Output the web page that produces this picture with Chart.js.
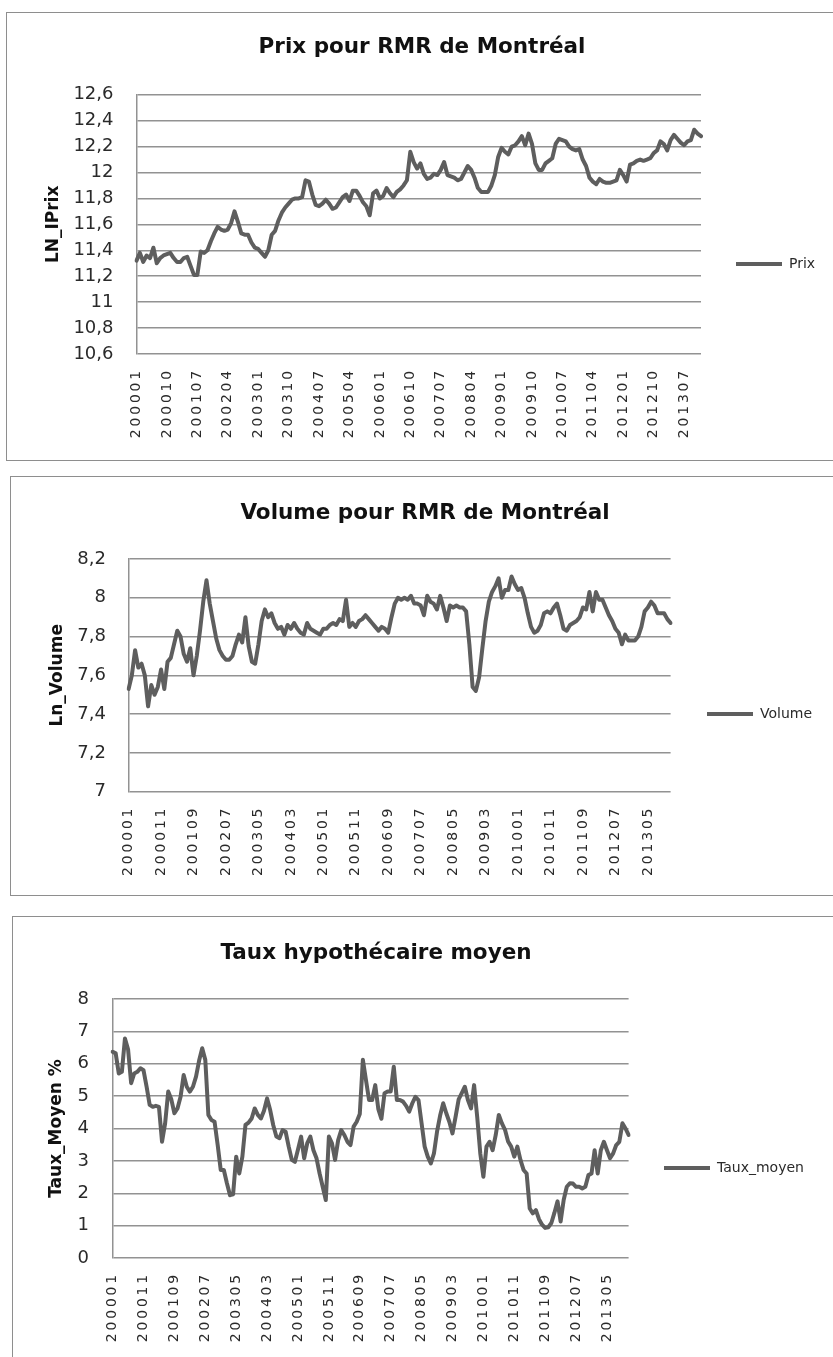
<!DOCTYPE html>
<html>
<head>
<meta charset="utf-8">
<script src="https://cdn.jsdelivr.net/npm/chart.js@4.4.1/dist/chart.umd.min.js"></script>
<style>
  html, body { margin: 0; padding: 0; background: #ffffff; width: 833px; height: 1357px; overflow: hidden; position: relative; }
  .frame { position: absolute; border: 1.5px solid #8e8e8e; box-sizing: border-box; }
  canvas { position: absolute; left: 0; }
</style>
</head>
<body>
<div class="frame" style="left:6px; top:12px; width:900px; height:449px;"></div>
<div class="frame" style="left:10px; top:476px; width:900px; height:420px;"></div>
<div class="frame" style="left:12px; top:916px; width:900px; height:460px;"></div>

<canvas id="prixChart" width="833" height="448" style="top:12px;"></canvas>
<canvas id="volumeChart" width="833" height="419" style="top:476px;"></canvas>
<canvas id="tauxChart" width="833" height="441" style="top:916px;"></canvas>

<script>
// Monthly categories, January 2000 to December 2013 (YYYYMM)
const FIRST_YEAR = 2000;
const LAST_YEAR = 2013;
const months = [];
for (let y = FIRST_YEAR; y <= LAST_YEAR; y++) {
  for (let m = 1; m <= 12; m++) months.push(String(y) + String(m).padStart(2, '0'));
}

// ln(price index), one row per year
const prix = [
  11.32, 11.38, 11.31, 11.36, 11.34, 11.42, 11.30, 11.34, 11.36, 11.37, 11.38, 11.34,
  11.31, 11.31, 11.34, 11.35, 11.28, 11.21, 11.21, 11.39, 11.38, 11.40, 11.47, 11.53,
  11.58, 11.56, 11.55, 11.56, 11.61, 11.70, 11.62, 11.53, 11.52, 11.52, 11.46, 11.42,
  11.41, 11.38, 11.35, 11.40, 11.52, 11.55, 11.63, 11.69, 11.73, 11.76, 11.79, 11.80,
  11.80, 11.81, 11.94, 11.93, 11.83, 11.75, 11.74, 11.76, 11.79, 11.76, 11.72, 11.73,
  11.77, 11.81, 11.83, 11.78, 11.86, 11.86, 11.82, 11.77, 11.74, 11.67, 11.84, 11.86,
  11.80, 11.82, 11.88, 11.84, 11.81, 11.85, 11.87, 11.90, 11.94, 12.16, 12.08, 12.03,
  12.07, 11.99, 11.95, 11.96, 11.99, 11.98, 12.02, 12.08, 11.98, 11.97, 11.96, 11.94,
  11.95, 12.00, 12.05, 12.02, 11.96, 11.88, 11.85, 11.85, 11.85, 11.90, 11.98, 12.12,
  12.19, 12.16, 12.14, 12.20, 12.21, 12.24, 12.28, 12.21, 12.30, 12.22, 12.07, 12.02,
  12.02, 12.07, 12.09, 12.11, 12.22, 12.26, 12.25, 12.24, 12.20, 12.18, 12.17, 12.18,
  12.10, 12.05, 11.96, 11.93, 11.91, 11.95, 11.93, 11.92, 11.92, 11.93, 11.94, 12.02,
  11.98, 11.93, 12.06, 12.07, 12.09, 12.10, 12.09, 12.10, 12.11, 12.15, 12.17, 12.24,
  12.22, 12.17, 12.25, 12.29, 12.26, 12.23, 12.21, 12.24, 12.25, 12.33, 12.30, 12.28
];

// ln(sales volume), one row per year
const volume = [
  7.53, 7.60, 7.73, 7.64, 7.66, 7.60, 7.44, 7.55, 7.50, 7.54, 7.63, 7.53,
  7.67, 7.69, 7.76, 7.83, 7.80, 7.71, 7.67, 7.74, 7.60, 7.70, 7.83, 7.98,
  8.09, 7.97, 7.88, 7.79, 7.73, 7.70, 7.68, 7.68, 7.70, 7.76, 7.81, 7.77,
  7.90, 7.75, 7.67, 7.66, 7.76, 7.88, 7.94, 7.90, 7.92, 7.87, 7.84, 7.85,
  7.81, 7.86, 7.84, 7.87, 7.84, 7.82, 7.81, 7.87, 7.84, 7.83, 7.82, 7.81,
  7.84, 7.84, 7.86, 7.87, 7.86, 7.89, 7.88, 7.99, 7.85, 7.87, 7.85, 7.88,
  7.89, 7.91, 7.89, 7.87, 7.85, 7.83, 7.85, 7.84, 7.82, 7.90, 7.97, 8.00,
  7.99, 8.00, 7.99, 8.01, 7.97, 7.97, 7.96, 7.91, 8.01, 7.98, 7.97, 7.94,
  8.01, 7.95, 7.88, 7.96, 7.95, 7.96, 7.95, 7.95, 7.93, 7.76, 7.54, 7.52,
  7.59, 7.74, 7.88, 7.98, 8.03, 8.06, 8.10, 8.00, 8.04, 8.04, 8.11, 8.07,
  8.04, 8.05, 8.00, 7.92, 7.85, 7.82, 7.83, 7.86, 7.92, 7.93, 7.92, 7.95,
  7.97, 7.91, 7.84, 7.83, 7.86, 7.87, 7.88, 7.90, 7.95, 7.94, 8.03, 7.93,
  8.03, 7.99, 7.99, 7.95, 7.91, 7.88, 7.84, 7.82, 7.76, 7.81, 7.78, 7.78,
  7.78, 7.80, 7.85, 7.93, 7.95, 7.98, 7.96, 7.92, 7.92, 7.92, 7.89, 7.87
];

// Average mortgage rate (%), one row per year
const taux = [
  6.37, 6.32, 5.70, 5.75, 6.78, 6.45, 5.40, 5.70, 5.75, 5.86, 5.80, 5.29,
  4.73, 4.67, 4.70, 4.67, 3.59, 4.16, 5.14, 4.90, 4.47, 4.62, 4.98, 5.65,
  5.29, 5.14, 5.29, 5.60, 6.10, 6.48, 6.12, 4.42, 4.26, 4.21, 3.50, 2.72,
  2.72, 2.31, 1.94, 1.97, 3.13, 2.61, 3.13, 4.11, 4.18, 4.31, 4.62, 4.42,
  4.31, 4.55, 4.93, 4.57, 4.10, 3.75, 3.70, 3.95, 3.90, 3.44, 3.03, 2.97,
  3.35, 3.75, 3.08, 3.55, 3.75, 3.33, 3.08, 2.61, 2.20, 1.79, 3.75, 3.54,
  3.03, 3.64, 3.95, 3.80, 3.59, 3.49, 4.06, 4.21, 4.45, 6.12, 5.50, 4.88,
  4.88, 5.34, 4.60, 4.30, 5.09, 5.14, 5.14, 5.91, 4.88, 4.88, 4.83, 4.70,
  4.52, 4.78, 4.98, 4.88, 4.16, 3.44, 3.13, 2.92, 3.23, 3.90, 4.40, 4.78,
  4.47, 4.20, 3.85, 4.36, 4.90, 5.09, 5.29, 4.88, 4.62, 5.34, 4.36, 3.23,
  2.51, 3.44, 3.59, 3.33, 3.80, 4.42, 4.16, 3.96, 3.60, 3.44, 3.13, 3.44,
  3.03, 2.72, 2.61, 1.53, 1.38, 1.48, 1.20, 1.03, 0.93, 0.95, 1.08, 1.40,
  1.75, 1.13, 1.80, 2.20, 2.31, 2.30, 2.20, 2.20, 2.15, 2.20, 2.56, 2.61,
  3.33, 2.61, 3.33, 3.59, 3.33, 3.08, 3.23, 3.49, 3.59, 4.16, 4.00, 3.80
];

// Value-axis ranges: [min, max, step]
const prixAxis = [10.6, 12.6, 0.2];
const volumeAxis = [7.0, 8.2, 0.2];
const tauxAxis = [0, 8, 1];

// Every n-th month gets a category label
const prixLabelEvery = 9;
const volumeLabelEvery = 10;
const tauxLabelEvery = 10;

const LINE_COLOR = '#5e5e5e';
const GRID_COLOR = '#929292';
const TEXT_COLOR = '#2a2a2a';
const FONT = "'DejaVu Sans', 'Liberation Sans', sans-serif";

// Fixes legend width/vertical placement, nudges the title and spaces category labels
const layoutTweaks = {
  id: 'layoutTweaks',
  beforeLayout(chart, args, o) {
    const lg = chart.legend;
    if (lg && !lg.__fixedWidth) {
      const baseFit = lg.fit;
      lg.fit = function () { baseFit.call(this); this.width = o.legendWidth; };
      lg.__fixedWidth = true;
    }
  },
  afterLayout(chart, args, o) {
    const lg = chart.legend;
    if (lg) {
      const dy = o.legendY - (lg.top + lg.bottom) / 2;
      lg.top += dy;
      lg.bottom += dy;
    }
    const tb = chart.titleBlock;
    if (tb) {
      tb.left += o.titleDx;
      tb.right += o.titleDx;
    }
    const xs = chart.scales.x;
    if (xs && !xs.__spaced) {
      const baseDraw = xs.drawLabels;
      xs.drawLabels = function (area) {
        const c = this.ctx;
        c.save();
        c.letterSpacing = o.tickSpacing;
        baseDraw.call(this, area);
        c.restore();
      };
      xs.__spaced = true;
    }
  }
};

function decimalComma(v) {
  return String(parseFloat(Number(v).toFixed(1))).replace('.', ',');
}

function lineLegendItems(chart) {
  const items = Chart.defaults.plugins.legend.labels.generateLabels(chart);
  items.forEach(it => { it.lineWidth = 0; it.fillStyle = LINE_COLOR; it.strokeStyle = LINE_COLOR; });
  return items;
}

function makeChart(id, cfg) {
  const [ymin, ymax, ystep] = cfg.axis;
  return new Chart(document.getElementById(id), {
    type: 'line',
    data: {
      labels: months,
      datasets: [{
        label: cfg.series,
        data: cfg.values,
        borderColor: LINE_COLOR,
        backgroundColor: LINE_COLOR,
        borderWidth: 4,
        pointRadius: 0,
        pointHoverRadius: 0,
        tension: 0,
        borderJoinStyle: 'round',
        borderCapStyle: 'round',
        fill: false
      }]
    },
    options: {
      responsive: false,
      animation: false,
      devicePixelRatio: 1,
      events: [],
      layout: { padding: 0 },
      plugins: {
        tooltip: { enabled: false },
        title: {
          display: true,
          text: cfg.title,
          color: '#111111',
          font: { family: FONT, size: 21.5, weight: 'bold', lineHeight: 1.2 },
          padding: { top: cfg.titlePadTop, bottom: cfg.titlePadBottom }
        },
        legend: {
          display: true,
          position: 'right',
          align: 'center',
          labels: {
            color: TEXT_COLOR,
            font: { family: FONT, size: 14 },
            boxWidth: 46,
            boxHeight: 4,
            padding: cfg.legendPad,
            generateLabels: lineLegendItems
          }
        },
        layoutTweaks: {
          legendWidth: cfg.legendWidth,
          legendY: cfg.legendY,
          titleDx: cfg.titleDx,
          tickSpacing: '2.8px'
        }
      },
      scales: {
        x: {
          type: 'category',
          offset: false,
          grid: { display: false, drawTicks: false, offset: false },
          border: { display: false },
          ticks: {
            autoSkip: false,
            minRotation: 90,
            maxRotation: 90,
            padding: 14,
            color: TEXT_COLOR,
            font: { family: FONT, size: 14 },
            callback(value, index) {
              return index % cfg.labelEvery === 0 ? this.getLabelForValue(value) : null;
            }
          },
          afterFit(scale) { scale.height = cfg.xAxisHeight; }
        },
        y: {
          min: ymin,
          max: ymax,
          grid: { color: GRID_COLOR, lineWidth: 1.5, drawTicks: false },
          border: { display: true, color: GRID_COLOR, width: 1.5 },
          ticks: {
            stepSize: ystep,
            padding: cfg.yTickPad,
            color: TEXT_COLOR,
            font: { family: FONT, size: 18 },
            callback: v => decimalComma(v)
          },
          title: {
            display: true,
            text: cfg.yTitle,
            color: '#111111',
            font: { family: FONT, size: 17, weight: 'bold', lineHeight: 1.2 },
            padding: { top: cfg.yTitlePad, bottom: 0 }
          },
          afterFit(scale) { scale.width = cfg.yAxisWidth; }
        }
      }
    },
    plugins: [layoutTweaks]
  });
}

makeChart('prixChart', {
  title: 'Prix pour RMR de Montréal',
  series: 'Prix',
  yTitle: 'LN_IPrix',
  values: prix,
  axis: prixAxis,
  labelEvery: prixLabelEvery,
  titlePadTop: 22.1, titlePadBottom: 34.8, titleDx: 5.5,
  yAxisWidth: 136.5, yTickPad: 23, yTitlePad: 43.8,
  xAxisHeight: 106,
  legendWidth: 132, legendPad: 35, legendY: 252
});

makeChart('volumeChart', {
  title: 'Volume pour RMR de Montréal',
  series: 'Volume',
  yTitle: 'Ln_Volume',
  values: volume,
  axis: volumeAxis,
  labelEvery: volumeLabelEvery,
  titlePadTop: 24.1, titlePadBottom: 33.1, titleDx: 8.5,
  yAxisWidth: 128.6, yTickPad: 22.6, yTitlePad: 47.3,
  xAxisHeight: 103.3,
  legendWidth: 162.4, legendPad: 36.4, legendY: 238
});

makeChart('tauxChart', {
  title: 'Taux hypothécaire moyen',
  series: 'Taux_moyen',
  yTitle: 'Taux_Moyen %',
  values: taux,
  axis: tauxAxis,
  labelEvery: tauxLabelEvery,
  titlePadTop: 24.1, titlePadBottom: 33.1, titleDx: -40.5,
  yAxisWidth: 112.6, yTickPad: 23.6, yTitlePad: 46.8,
  xAxisHeight: 99,
  legendWidth: 204.4, legendPad: 35.4, legendY: 252
});
</script>
</body>
</html>
